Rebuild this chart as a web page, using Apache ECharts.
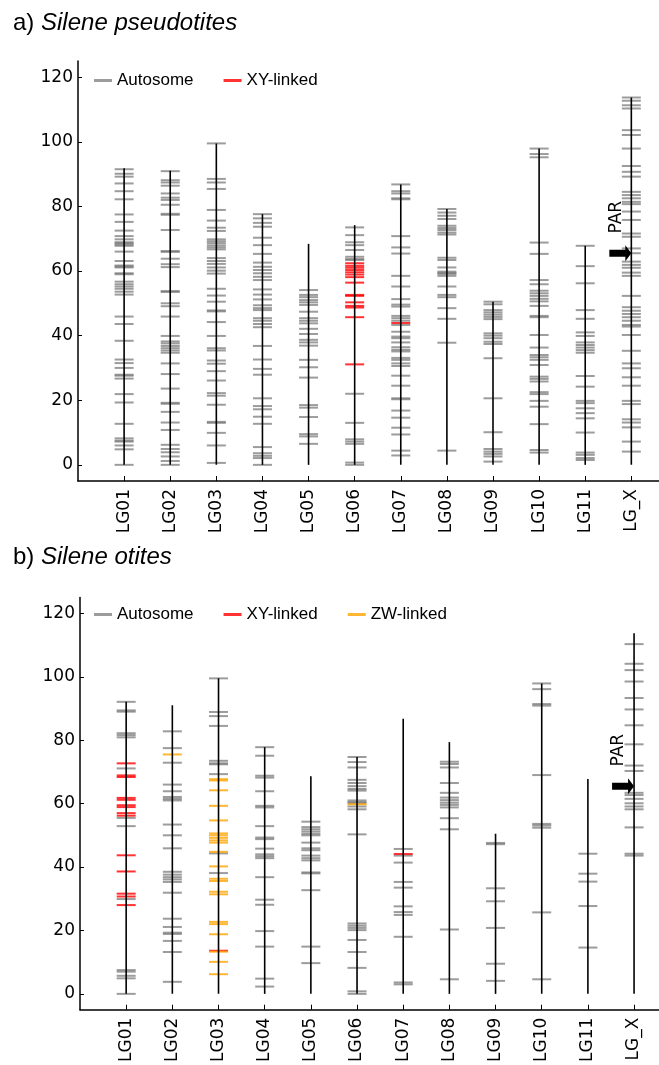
<!DOCTYPE html>
<html>
<head>
<meta charset="utf-8">
<script src="https://cdn.jsdelivr.net/npm/echarts@6/dist/echarts.min.js"></script>
<style>
  html, body { margin: 0; padding: 0; background: #fff; }
  #chart { width: 659px; height: 1065px; }
</style>
</head>
<body>
<div id="chart"></div>
<script>
// linkage groups
const groups = ["LG01", "LG02", "LG03", "LG04", "LG05", "LG06", "LG07", "LG08", "LG09", "LG10", "LG11", "LG_X"];
const yTicks = [0, 20, 40, 60, 80, 100, 120];

// a) Silene pseudotites - map length (cM) and marker positions
const lengthA = [91.8, 91, 99.5, 77.6, 68.4, 74.2, 86.8, 79.2, 50.5, 97.9, 67.8, 113.7];
const autoA = [
  [91.5, 90.1, 89.2, 87.1, 84.7, 82.2, 77.5, 75.2, 72.5, 70.8, 69.8, 68.9, 68.6, 68.2, 67.8, 66.0, 63.1, 61.7, 61.4, 61.1, 59.3, 59.0, 56.7, 55.9, 55.2, 54.5, 53.6, 52.7, 45.9, 43.6, 38.4, 32.6, 31.5, 30.0, 27.9, 27.6, 26.7, 21.9, 19.3, 12.7, 8.2, 7.5, 7.2, 6.0, 4.8, 0],
  [90.9, 88.1, 87.4, 86.4, 84.0, 82.7, 82.0, 80.5, 77.7, 77.4, 72.7, 66.2, 65.9, 63.8, 62.1, 61.2, 53.8, 53.5, 50.0, 49.1, 45.9, 39.9, 38.2, 37.6, 36.8, 36.1, 35.4, 34.7, 31.4, 28.1, 23.6, 19.2, 18.9, 16.4, 13.1, 10.8, 6.2, 4.9, 3.9, 2.6, 1.2, 0],
  [99.5, 88.5, 87.4, 85.4, 78.9, 75.6, 73.4, 72.4, 69.8, 69.2, 68.6, 67.9, 67.3, 66.7, 64.0, 63.1, 62.2, 61.1, 60.1, 59.2, 54.5, 52.4, 50.5, 47.8, 47.5, 44.2, 39.9, 36.1, 35.4, 32.3, 31.3, 29.0, 26.1, 22.2, 21.4, 18.6, 13.3, 13.0, 9.9, 6.0, 0.6],
  [77.6, 76.3, 74.9, 73.7, 70.3, 68.0, 65.3, 62.6, 61.3, 60.3, 59.3, 58.2, 57.2, 54.3, 52.7, 51.2, 49.4, 48.5, 47.9, 45.4, 44.6, 43.6, 42.6, 36.8, 32.6, 29.7, 27.9, 20.6, 18.2, 17.2, 14.9, 12.7, 5.5, 3.6, 2.8, 2.1, 0],
  [54.1, 52.6, 51.9, 51.0, 50.3, 49.5, 47.4, 45.4, 44.6, 43.8, 42.1, 40.5, 38.7, 37.9, 36.9, 32.5, 30.2, 27.0, 18.5, 17.7, 14.8, 9.5, 8.8, 6.5],
  [73.5, 71.1, 68.9, 68.0, 66.5, 64.4, 63.7, 63.4, 22.0, 13.0, 7.9, 7.2, 6.5, 0.7, 0],
  [86.8, 84.7, 84.0, 82.5, 82.2, 70.8, 67.3, 65.4, 58.5, 55.2, 51.3, 49.6, 49.0, 46.1, 45.4, 44.6, 43.3, 41.2, 39.7, 39.2, 37.9, 36.4, 35.6, 35.1, 33.1, 32.5, 31.4, 30.6, 27.6, 24.5, 20.6, 20.3, 16.8, 14.6, 11.5, 9.4, 4.4, 2.9],
  [79.2, 78.1, 77.1, 76.1, 74.0, 73.3, 72.7, 71.9, 71.3, 64.1, 63.4, 61.1, 59.8, 59.4, 59.1, 58.5, 55.2, 52.6, 51.9, 48.5, 45.2, 37.8, 4.4],
  [50.5, 49.7, 47.9, 47.2, 46.5, 45.8, 45.1, 40.7, 40.0, 39.2, 38.1, 37.4, 33.0, 20.6, 10.1, 4.9, 4.1, 3.4, 2.6, 1.0],
  [97.9, 96.2, 95.2, 68.8, 65.3, 57.2, 55.9, 53.9, 53.1, 52.3, 51.4, 50.6, 49.2, 46.1, 45.7, 40.2, 36.3, 34.0, 33.3, 32.5, 30.9, 27.3, 26.6, 25.8, 22.5, 21.9, 19.8, 18.0, 12.6, 4.6, 3.8],
  [67.8, 61.5, 56.2, 47.9, 45.2, 41.0, 39.9, 37.9, 37.1, 36.3, 35.5, 34.7, 27.5, 24.2, 19.8, 19.1, 17.5, 16.0, 14.4, 10.0, 3.8, 3.1, 2.1, 1.5],
  [113.7, 112.7, 111.3, 110.3, 103.6, 102.1, 97.9, 92.5, 90.7, 89.2, 84.5, 83.5, 82.5, 81.4, 80.7, 78.4, 75.8, 71.6, 70.6, 67.0, 65.5, 62.9, 61.9, 61.0, 59.5, 58.5, 52.3, 48.8, 47.7, 46.7, 45.7, 44.6, 43.3, 42.8, 40.2, 35.3, 31.4, 29.9, 27.1, 24.5, 19.8, 18.8, 14.1, 13.1, 11.6, 7.2, 4.1]
];
const xyA = [
  [], [], [], [], [],
  [62.4, 61.6, 61.0, 60.3, 59.6, 58.9, 58.1, 56.4, 52.6, 52.3, 50.3, 49.2, 48.7, 45.7, 31.1],
  [43.9],
  [], [], [], [], []
];

// b) Silene otites
const lengthB = [92.1, 91.0, 99.5, 77.8, 68.6, 74.7, 86.8, 79.4, 50.5, 97.9, 67.8, 113.7];
const autoB = [
  [92.1, 89.4, 89.0, 82.2, 81.6, 80.9, 71.1, 55.5, 52.9, 29.9, 7.5, 7.0, 5.7, 4.9, 0],
  [82.8, 77.5, 72.9, 66.0, 63.9, 62.1, 61.5, 61.0, 53.4, 50.0, 45.9, 38.5, 37.6, 36.8, 36.1, 35.3, 31.9, 23.7, 21.1, 19.3, 18.9, 16.7, 13.2, 3.8],
  [99.5, 88.9, 87.6, 84.5, 73.5, 72.7, 72.4, 69.3, 44.3, 38.1],
  [77.8, 75.1, 68.8, 68.2, 63.9, 59.3, 58.8, 52.9, 49.3, 48.8, 45.8, 44.0, 43.4, 42.8, 36.8, 29.7, 28.1, 19.8, 14.9, 4.8, 2.3],
  [54.3, 52.6, 51.9, 51.2, 50.5, 50.0, 47.7, 45.9, 45.3, 43.6, 42.8, 42.1, 38.3, 38.0, 32.7, 14.9, 9.7],
  [74.7, 73.1, 71.4, 67.5, 66.5, 65.5, 64.6, 64.1, 61.0, 60.5, 60.1, 59.1, 58.2, 50.3, 22.2, 21.5, 20.8, 20.1, 17.0, 13.2, 8.2, 0.8, 0],
  [45.7, 43.6, 41.4, 35.3, 33.5, 27.6, 25.8, 24.9, 18.0, 3.6, 3.0],
  [73.2, 72.5, 71.4, 66.5, 63.4, 61.9, 61.1, 60.3, 59.6, 58.8, 55.4, 51.9, 20.3, 4.6],
  [47.6, 47.2, 33.3, 29.2, 20.8, 9.5, 4.1],
  [97.9, 96.1, 91.4, 90.9, 69.0, 53.6, 53.1, 52.4, 25.7, 4.6],
  [44.2, 37.9, 35.4, 27.7, 14.6],
  [110.3, 104.1, 102.1, 98.5, 93.3, 89.7, 84.7, 78.7, 72.0, 70.3, 63.4, 62.7, 61.5, 60.1, 59.1, 58.2, 52.5, 44.2, 43.6]
];
const xyB = [
  [72.7, 68.9, 68.4, 61.8, 61.2, 59.5, 58.9, 57.0, 56.2, 43.7, 38.6, 31.6, 30.7, 28.0],
  [], [13.6], [], [], [],
  [44.1],
  [], [], [], [], []
];
const zwB = [
  [],
  [75.5],
  [67.7, 67.3, 64.2, 59.3, 54.7, 50.6, 50.0, 49.2, 48.4, 47.7, 44.8, 40.2, 36.3, 35.6, 32.2, 31.4, 22.7, 22.0, 18.8, 13.3, 10.1, 6.2],
  [], [],
  [59.8],
  [], [], [], [], [], []
];

// pseudo-autosomal region marker on LG_X
const parPos = 65.5;

const GRAY = "rgba(118,118,118,0.9)";
const RED = "#ff0000";
const ORANGE = "#ffa500";
const lgTicks = groups.map((g, i) => i + 1);

function toPoints(lists) {
  const out = [];
  lists.forEach((vals, i) => vals.forEach((v) => out.push([i + 1, v])));
  return out;
}

function markers(name, lists, color, idx) {
  return {
    name: name,
    type: "scatter",
    xAxisIndex: idx,
    yAxisIndex: idx,
    data: toPoints(lists),
    symbol: "rect",
    symbolSize: [19, 2],
    itemStyle: { color: color },
    silent: true,
    z: 2,
  };
}

function chromLines(lengths, idx) {
  return {
    type: "custom",
    xAxisIndex: idx,
    yAxisIndex: idx,
    data: lengths.map((l, i) => [i + 1, l]),
    silent: true,
    z: 3,
    renderItem: function (params, api) {
      const top = api.coord([api.value(0), api.value(1)]);
      const bottom = api.coord([api.value(0), 0]);
      return {
        type: "line",
        shape: { x1: top[0], y1: top[1], x2: bottom[0], y2: bottom[1] },
        style: { stroke: "#000", lineWidth: 1.6 },
      };
    },
  };
}

function parArrow(idx) {
  return {
    type: "custom",
    xAxisIndex: idx,
    yAxisIndex: idx,
    data: [[12, parPos]],
    silent: true,
    z: 5,
    renderItem: function (params, api) {
      const p = api.coord([api.value(0), api.value(1)]);
      return {
        type: "group",
        children: [
          {
            type: "polygon",
            shape: {
              points: [
                [p[0] - 22, p[1] - 3.5], [p[0] - 6, p[1] - 3.5], [p[0] - 6, p[1] - 8],
                [p[0], p[1]], [p[0] - 6, p[1] + 8], [p[0] - 6, p[1] + 3.5], [p[0] - 22, p[1] + 3.5],
              ],
            },
            style: { fill: "#000" },
          },
          {
            type: "text",
            x: p[0] - 15,
            y: p[1] - 36,
            rotation: Math.PI / 2,
            style: {
              text: "PAR",
              fill: "#000",
              font: "17px 'DejaVu Sans'",
              align: "center",
              verticalAlign: "middle",
            },
          },
        ],
      };
    },
  };
}

function xAxisFor(idx, max) {
  return {
    gridIndex: idx,
    type: "value",
    min: 0,
    max: max,
    axisLine: { onZero: false, lineStyle: { color: "#000", width: 1.5 } },
    axisTick: { inside: true, length: 5, customValues: lgTicks, lineStyle: { color: "#000" } },
    axisLabel: {
      customValues: lgTicks,
      rotate: 90,
      margin: 8,
      color: "#000",
      fontFamily: "DejaVu Sans",
      fontSize: 17,
      formatter: (v) => groups[Math.round(v) - 1],
    },
    splitLine: { show: false },
  };
}

function yAxisFor(idx) {
  return {
    gridIndex: idx,
    type: "value",
    min: -5,
    max: 125,
    axisLine: { show: true, onZero: false, lineStyle: { color: "#000", width: 1.5 } },
    axisTick: { show: true, inside: true, length: 4, customValues: yTicks, lineStyle: { color: "#000" } },
    axisLabel: {
      customValues: yTicks,
      margin: 5,
      color: "#000",
      fontFamily: "DejaVu Sans",
      fontSize: 17,
    },
    splitLine: { show: false },
  };
}

const legendText = { fontFamily: "Liberation Sans", fontSize: 17, color: "#000" };
const titleRich = {
  n: { fontFamily: "Liberation Sans", fontSize: 24, fontWeight: "normal", color: "#000" },
  i: { fontFamily: "Liberation Sans", fontSize: 24, fontWeight: "normal", color: "#000", fontStyle: "italic" },
};

const chart = echarts.init(document.getElementById("chart"));

chart.setOption({
  animation: false,
  backgroundColor: "#fff",
  title: [
    { text: "{n|a) }{i|Silene pseudotites}", left: 8, top: 6, textStyle: { fontWeight: "normal", rich: titleRich } },
    { text: "{n|b) }{i|Silene otites}", left: 8, top: 540, textStyle: { fontWeight: "normal", rich: titleRich } },
  ],
  legend: [
    {
      data: ["Autosome", "XY-linked"],
      left: 89, top: 67,
      icon: "rect", itemWidth: 18, itemHeight: 3, itemGap: 30,
      textStyle: legendText,
    },
    {
      data: ["Autosome", "XY-linked", "ZW-linked"],
      left: 89, top: 601,
      icon: "rect", itemWidth: 18, itemHeight: 3, itemGap: 30,
      textStyle: legendText,
    },
  ],
  grid: [
    { left: 78, top: 61, width: 582, height: 420 },
    { left: 80, top: 597.5, width: 580, height: 420.5 },
  ],
  xAxis: [xAxisFor(0, 12.6), xAxisFor(1, 12.54)],
  yAxis: [yAxisFor(0), yAxisFor(1)],
  series: [
    chromLines(lengthA, 0),
    markers("Autosome", autoA, GRAY, 0),
    markers("XY-linked", xyA, RED, 0),
    parArrow(0),
    chromLines(lengthB, 1),
    markers("Autosome", autoB, GRAY, 1),
    markers("XY-linked", xyB, RED, 1),
    markers("ZW-linked", zwB, ORANGE, 1),
    parArrow(1),
  ],
});
</script>
</body>
</html>
